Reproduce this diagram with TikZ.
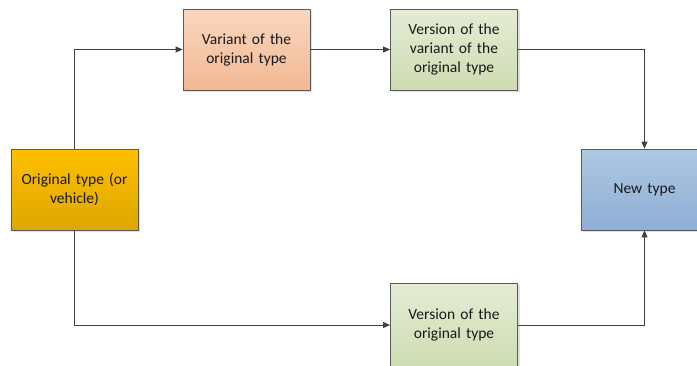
\documentclass[tikz,border=0pt]{standalone}
\usepackage{fontspec}
\setmainfont{Carlito}
\usetikzlibrary{arrows.meta,shadows}
\definecolor{boxborder}{HTML}{5A5A5A}
\definecolor{conncol}{HTML}{404040}
\definecolor{origtop}{HTML}{FFC000}
\definecolor{origbot}{HTML}{DDA600}
\definecolor{vartop}{HTML}{F9D7C0}
\definecolor{varbot}{HTML}{F2B893}
\definecolor{grntop}{HTML}{E4ECD5}
\definecolor{grnbot}{HTML}{CEDCB1}
\definecolor{blutop}{HTML}{AFC8E2}
\definecolor{blubot}{HTML}{8DAED5}
\begin{document}
\begin{tikzpicture}[x=1pt,y=-1pt,
  box/.style={draw=boxborder, line width=0.8pt, minimum width=127pt, minimum height=81pt,
    inner sep=2pt, align=center, text width=121pt, text=black!90, font=\fontsize{15.5}{19}\selectfont,
    drop shadow={shadow xshift=2pt, shadow yshift=-2pt, fill=black!30, opacity=0.4}},
  conn/.style={draw=conncol, line width=0.8pt, -{Triangle[length=7pt,width=6pt]}}]
\useasboundingbox (0,0) rectangle (697,365);
\node[box, top color=origtop, bottom color=origbot] (orig) at (74.5,189.5) {Original type (or\\vehicle)};
\node[box, top color=vartop, bottom color=varbot] (var) at (246.5,49.5) {Variant of the\\original type};
\node[box, top color=grntop, bottom color=grnbot] (vvar) at (454,49.5) {Version of the\\variant of the\\original type};
\node[box, top color=blutop, bottom color=blubot] (new) at (644.5,189.5) {New type};
\node[box, top color=grntop, bottom color=grnbot, minimum height=84pt] (ver) at (454,325) {Version of the\\original type};
\draw[conn] (orig.north) |- (var.west);
\draw[conn] (var.east) -- (vvar.west);
\draw[conn] (vvar.east) -| (new.north);
\draw[conn] (orig.south) |- (ver.west);
\draw[conn] (ver.east) -| (new.south);
\end{tikzpicture}
\end{document}
